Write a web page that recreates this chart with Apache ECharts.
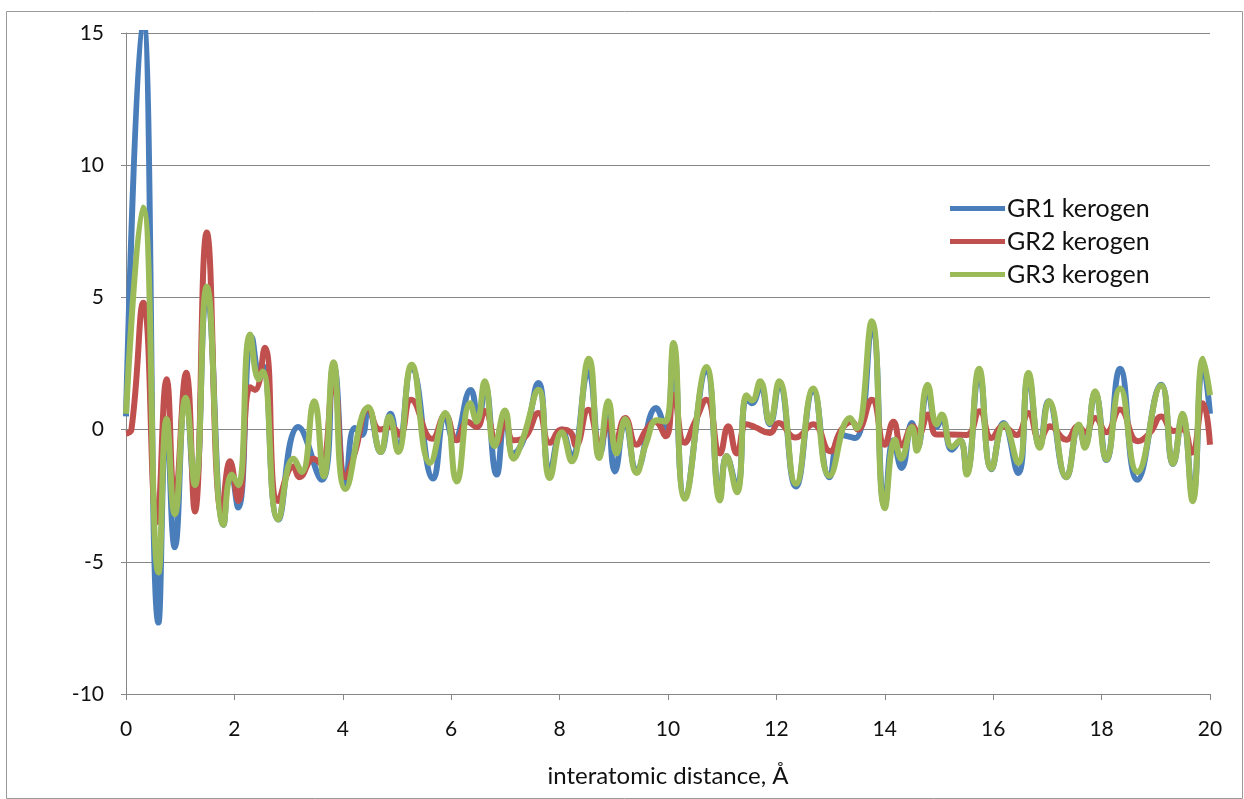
<!DOCTYPE html>
<html>
<head>
<meta charset="utf-8">
<script src="https://cdn.jsdelivr.net/npm/echarts@6/dist/echarts.min.js"></script>
<style>
html,body{margin:0;padding:0;background:#fff;}
#chart{width:1244px;height:799px;}
</style>
</head>
<body>
<div id="chart"></div>
<script>
const seriesNames = ['GR1 kerogen', 'GR2 kerogen', 'GR3 kerogen'];
const xTicks = [0, 2, 4, 6, 8, 10, 12, 14, 16, 18, 20];
const yTicks = [-10, -5, 0, 5, 10, 15];

const gr1 = [
[0,0.5],[0.31,15.6],[0.6,-7.3],[0.75,0.4],[0.9,-4.45],[1.1,1.5],[1.27,-2.4],[1.49,5.2],[1.8,-3.6],[1.92,-1.3],[2.07,-2.95],[2.32,3.5],[2.47,2.0],[2.53,2.4],[2.81,-3.4],[3.18,0.1],[3.61,-1.9],[3.83,2.4],[4.05,-2.1],[4.22,0.06],[4.35,-0.2],[4.47,0.8],[4.7,-0.85],[4.88,0.6],[5.02,-0.7],[5.27,2.3],[5.67,-1.85],[5.89,0.5],[6.05,-0.4],[6.36,1.5],[6.5,0.2],[6.62,1.7],[6.84,-1.7],[7.0,0.6],[7.15,-0.9],[7.35,-0.3],[7.61,1.76],[7.82,-1.6],[8.04,0.0],[8.22,-1.0],[8.53,2.2],[8.75,-0.9],[8.88,0.5],[9.02,-1.58],[9.21,0.3],[9.42,-1.5],[9.78,0.82],[9.96,0.0],[10.1,3.0],[10.31,-2.5],[10.71,2.2],[10.96,-2.5],[11.08,-1.0],[11.27,-2.2],[11.45,1.2],[11.55,1.0],[11.7,1.6],[11.88,0.2],[12.05,1.7],[12.36,-2.15],[12.68,1.45],[12.98,-1.8],[13.2,-0.2],[13.45,-0.32],[13.76,3.8],[14.0,-2.9],[14.16,-0.4],[14.31,-1.45],[14.5,0.25],[14.6,-0.7],[14.79,1.5],[14.96,0.1],[15.05,0.4],[15.24,-0.76],[15.39,-0.4],[15.51,-1.6],[15.74,2.1],[15.97,-1.5],[16.19,0.25],[16.46,-1.64],[16.65,2.0],[16.86,-0.65],[17.02,1.07],[17.35,-1.8],[17.58,0.1],[17.69,-0.6],[17.88,1.4],[18.09,-1.15],[18.34,2.3],[18.66,-1.9],[19.1,1.7],[19.32,-1.3],[19.49,0.5],[19.68,-2.5],[19.87,2.5],[20.0,0.6]
];

const gr2 = [
[0,-0.15],[0.1,0.0],[0.32,4.8],[0.57,-3.5],[0.75,1.9],[0.9,-2.6],[1.11,2.15],[1.27,-3.1],[1.49,7.45],[1.77,-3.2],[1.92,-1.2],[2.07,-2.7],[2.29,1.6],[2.38,1.5],[2.56,3.1],[2.81,-2.7],[3.09,-1.4],[3.2,-1.8],[3.46,-1.1],[3.6,-1.3],[3.83,1.8],[4.05,-1.8],[4.22,-0.9],[4.47,0.8],[4.69,0.0],[4.9,0.1],[5.05,-0.2],[5.26,1.13],[5.65,-0.35],[5.89,0.55],[6.1,-0.4],[6.3,0.3],[6.47,0.1],[6.62,0.7],[6.84,-0.5],[7.0,0.3],[7.15,-0.4],[7.35,-0.3],[7.61,0.63],[7.82,-0.5],[8.04,0.0],[8.2,-0.1],[8.3,-0.6],[8.53,0.75],[8.75,-0.5],[8.9,0.3],[9.02,-0.5],[9.21,0.44],[9.42,-0.57],[9.6,0.0],[9.76,0.3],[9.96,-0.25],[10.1,1.32],[10.31,-0.5],[10.5,0.3],[10.71,1.13],[10.96,-0.9],[11.11,0.13],[11.27,-0.9],[11.45,0.2],[11.6,0.1],[11.88,-0.13],[12.04,0.25],[12.35,-0.3],[12.68,0.2],[12.99,-0.82],[13.2,0.0],[13.4,0.3],[13.5,0.0],[13.76,1.13],[14.0,-0.57],[14.16,0.3],[14.31,-0.6],[14.52,0.13],[14.62,-0.2],[14.8,0.57],[14.96,-0.19],[15.2,-0.19],[15.51,-0.2],[15.75,0.69],[15.97,-0.32],[16.18,0.13],[16.43,-0.2],[16.65,0.63],[16.86,-0.38],[17.05,0.13],[17.35,-0.38],[17.57,0.13],[17.7,-0.1],[17.88,0.44],[18.09,-0.1],[18.34,0.76],[18.67,-0.44],[18.9,-0.1],[19.1,0.5],[19.33,-0.05],[19.5,0.0],[19.66,-0.88],[19.87,1.0],[20.0,-0.57]
];

const gr3 = [
[0,0.6],[0.31,8.4],[0.6,-5.4],[0.75,0.4],[0.9,-3.2],[1.1,1.2],[1.27,-2.1],[1.49,5.4],[1.8,-3.6],[1.95,-1.7],[2.07,-2.1],[2.29,3.6],[2.45,1.9],[2.52,2.2],[2.81,-3.4],[3.09,-1.1],[3.24,-1.6],[3.47,1.07],[3.65,-1.77],[3.83,2.55],[4.05,-2.25],[4.47,0.85],[4.7,-0.85],[4.86,0.5],[5.02,-0.85],[5.27,2.45],[5.61,-1.26],[5.89,0.63],[6.1,-1.96],[6.35,1.0],[6.47,0.3],[6.62,1.83],[6.8,-0.63],[6.99,0.72],[7.15,-1.1],[7.33,-0.3],[7.61,1.51],[7.82,-1.83],[8.04,-0.1],[8.22,-1.2],[8.54,2.68],[8.73,-1.07],[8.9,1.07],[9.05,-0.9],[9.21,0.4],[9.42,-1.64],[9.6,-0.5],[9.8,0.35],[9.95,0.3],[10.1,3.28],[10.31,-2.62],[10.71,2.37],[10.96,-2.68],[11.08,-1.0],[11.27,-2.37],[11.45,1.3],[11.55,1.1],[11.7,1.83],[11.88,0.25],[12.05,1.83],[12.36,-2.05],[12.68,1.55],[12.98,-1.75],[13.36,0.44],[13.48,0.05],[13.76,4.1],[14.0,-2.97],[14.19,-0.38],[14.3,-1.1],[14.5,0.1],[14.59,-0.8],[14.79,1.7],[14.96,0.19],[15.05,0.57],[15.24,-0.66],[15.39,-0.4],[15.51,-1.7],[15.74,2.3],[15.97,-1.48],[16.2,0.2],[16.46,-1.26],[16.65,2.14],[16.86,-0.69],[17.03,1.07],[17.35,-1.8],[17.58,0.19],[17.69,-0.69],[17.88,1.45],[18.09,-1.13],[18.34,1.55],[18.66,-1.6],[19.1,1.67],[19.32,-1.29],[19.49,0.6],[19.68,-2.71],[19.87,2.68],[20.0,1.3]
];

const colors = ['#4A7EBB', '#C0504D', '#9BBB59'];
const fontFam = 'Lato, "Open Sans", sans-serif';

const chart = echarts.init(document.getElementById('chart'), null, {renderer: 'canvas'});
const mk = (name, data, color, z) => ({
  name, type: 'line', data, smooth: 0.5, symbol: 'none', clip: true, z,
  lineStyle: {color, width: 6}, itemStyle: {color}
});

chart.setOption({
  animation: false,
  backgroundColor: '#ffffff',
  graphic: [{
    type: 'rect', left: 4, top: 9, shape: {width: 1236, height: 787},
    style: {fill: 'none', stroke: '#9a9a9a', lineWidth: 1}, silent: true, z: -1
  }],
  grid: {left: 126, right: 34, top: 33, bottom: 105, containLabel: false},
  legend: {
    orient: 'vertical', left: 945, top: 191, itemGap: 8,
    icon: 'rect', itemWidth: 55, itemHeight: 5,
    textStyle: {fontFamily: fontFam, fontSize: 25, color: '#111', padding: [0,0,0,-3]},
    data: seriesNames
  },
  xAxis: {
    type: 'value', min: xTicks[0], max: xTicks[xTicks.length-1], interval: 2,
    name: 'interatomic distance, Å', nameLocation: 'middle', nameGap: 70,
    nameTextStyle: {fontFamily: fontFam, fontSize: 24, color: '#111'},
    axisLine: {onZero: false, lineStyle: {color: '#868686', width: 1}},
    axisTick: {show: true, inside: false, length: 6, lineStyle: {color: '#868686'}},
    axisLabel: {fontFamily: fontFam, fontSize: 21, color: '#111', margin: 25},
    splitLine: {show: false}
  },
  yAxis: {
    type: 'value', min: yTicks[0], max: yTicks[yTicks.length-1], interval: 5,
    axisLine: {show: true, lineStyle: {color: '#868686', width: 1}},
    axisTick: {show: true, length: 5, lineStyle: {color: '#868686'}},
    axisLabel: {fontFamily: fontFam, fontSize: 21, color: '#111', margin: 22},
    splitLine: {show: true, lineStyle: {color: '#868686', width: 1}}
  },
  series: [
    mk(seriesNames[0], gr1, colors[0], 2),
    mk(seriesNames[1], gr2, colors[1], 3),
    mk(seriesNames[2], gr3, colors[2], 4)
  ]
});
</script>
</body>
</html>
